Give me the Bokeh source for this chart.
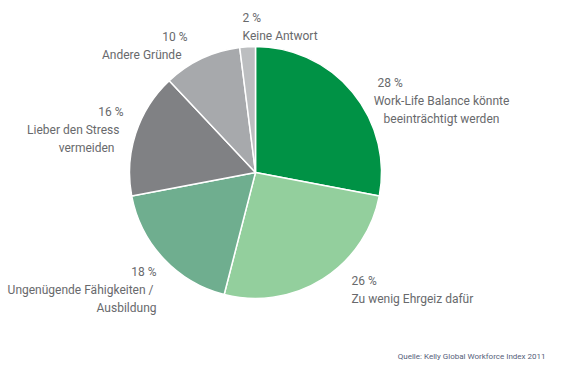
import math
from bokeh.plotting import figure
from bokeh.models import Range1d, ColumnDataSource
from bokeh.core.properties import value
from bokeh.embed import file_html
from bokeh.resources import INLINE

# Data
categories = ["Work-Life Balance könnte beeinträchtigt werden", "Zu wenig Ehrgeiz dafür",
              "Ungenügende Fähigkeiten / Ausbildung", "Lieber den Stress vermeiden",
              "Andere Gründe", "Keine Antwort"]
percent = [28, 26, 18, 16, 10, 2]
colors = ["#009245", "#93cf9d", "#6fae8f", "#808184", "#a7a9ac", "#bcbec0"]
pct_labels = ["28 %", "26 %", "18 %", "16 %", "10 %", "2 %"]
label_lines = [["Work-Life Balance könnte", "beeinträchtigt werden"],
               ["Zu wenig Ehrgeiz dafür"],
               ["Ungenügende Fähigkeiten /", "Ausbildung"],
               ["Lieber den Stress", "vermeiden"],
               ["Andere Gründe"],
               ["Keine Antwort"]]
source_text = "Quelle: Kelly Global Workforce Index 2011"

W, H = 548, 361
X0, Y0 = 4, 6          # reference-pixel offset of the figure's top-left
H_IMG = 377
def Y(v):
    return H_IMG - v

p = figure(width=W, height=H, output_backend="svg", toolbar_location=None,
           x_range=Range1d(X0, X0 + W),
           y_range=Range1d(H_IMG - Y0 - H, H_IMG - Y0),
           min_border=0)
p.axis.visible = False
p.grid.visible = False
p.outline_line_color = None
p.background_fill_color = "white"

total = sum(percent)
starts, ends = [], []
cum = 0
for v in percent:
    starts.append(math.pi / 2 - 2 * math.pi * cum / total)
    cum += v
    ends.append(math.pi / 2 - 2 * math.pi * cum / total)

src = ColumnDataSource(dict(start=starts, end=ends, color=colors))
p.wedge(x=259, y=Y(178), radius=126, start_angle="start", end_angle="end",
        direction="clock", fill_color="color", line_color="white", line_width=1.5,
        source=src)

font = value("Roboto")
tc = "#68696c"

# label layout: (align, (pct x, baseline), [(x, baseline, align) per line])
layout = [
    ("left", (381, 88), [(445, 106, "center"), (445, 124, "center")]),
    ("left", (355, 286), [(355, 304, "left")]),
    ("right", (160, 277), [(157, 295, "right"), (160, 313, "right")]),
    ("right", (127, 117), [(123, 135, "right"), (118, 153, "right")]),
    ("right", (191, 42), [(185, 60, "right")]),
    ("left", (246, 23), [(246, 41, "left")]),
]
xs, ys, ts, al = [], [], [], []
for i, (a, (px, py), lines) in enumerate(layout):
    xs.append(px); ys.append(Y(py)); ts.append(pct_labels[i]); al.append(a)
    for (lx, ly, la), t in zip(lines, label_lines[i]):
        xs.append(lx); ys.append(Y(ly)); ts.append(t); al.append(la)

tsrc = ColumnDataSource(dict(x=xs, y=ys, text=ts, align=al))
p.text(x="x", y="y", text="text", text_align="align", source=tsrc,
       text_font=font, text_font_size="12px",
       text_color=tc, text_baseline="alphabetic")

p.text(x=[549], y=[Y(362)], text=[source_text], text_font=font,
       text_font_size="8px", text_color="#55607a", text_align="right",
       text_baseline="alphabetic")

open("out.html", "w").write(file_html(p, INLINE))
